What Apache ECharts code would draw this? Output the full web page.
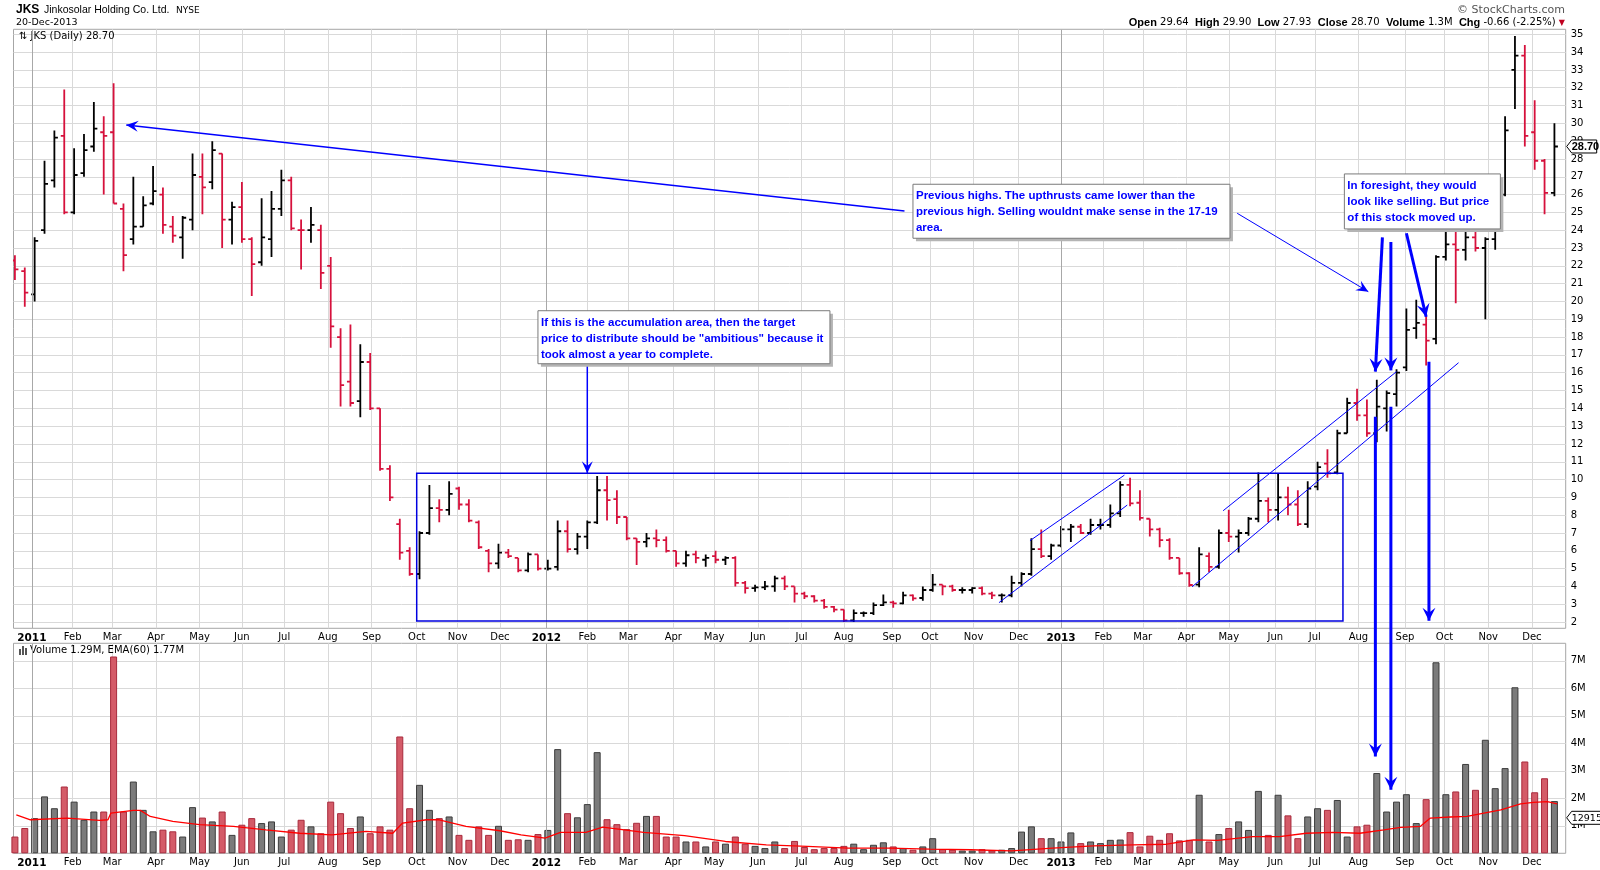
<!DOCTYPE html>
<html lang="en">
<head>
<meta charset="UTF-8">
<title>JKS Daily</title>
<script src="https://cdn.jsdelivr.net/npm/echarts@6/dist/echarts.min.js"></script>
<style>
  html, body { margin: 0; padding: 0; background: #fff; }
  #main { width: 1600px; height: 870px; }
</style>
</head>
<body>
<div id="main"></div>
<script>
// weekly bars, first week is the one of 22-Dec-2010
var firstWeek = [2010, 11, 22];

var openP = [
  22.3, 21.7,
  20.4, 24.0, 26.8, 29.3, 25.0, 27.2, 28.7, 29.5, 29.5, 25.2, 23.5, 24.2, 25.5, 26.0, 24.2, 23.6, 24.6, 27.0,
  26.7, 28.3, 24.6, 25.3, 23.5, 22.2, 23.5, 25.2, 26.8, 24.0, 24.0, 24.0, 22.0, 18.0, 15.5, 14.4, 16.6, 14.0,
  10.6, 7.5, 6.0, 4.7, 7.0, 8.4, 8.3, 9.5, 8.6, 7.6, 6.0, 5.3, 5.9, 5.6, 4.9, 5.8,
  5.0, 5.1, 7.1, 6.1, 6.8, 7.6, 9.4, 8.9, 7.9, 6.7, 6.5, 6.7, 6.6, 6.0, 5.3, 5.8, 5.5, 5.7, 5.5, 5.6,
  4.2, 3.9, 3.95, 4.0, 4.45, 4.0, 3.6, 3.45, 3.2, 2.85, 2.7, 2.1, 2.5, 2.5, 2.95, 3.1, 3.05, 3.5, 3.35, 3.8,
  4.1, 4.0, 3.8, 3.8, 3.9, 3.6, 3.5, 3.5, 4.2, 4.7, 6.1, 5.7,
  6.3, 7.2, 7.35, 7.0, 7.45, 7.45, 8.1, 9.7, 8.7, 7.8, 7.2, 6.6, 5.6, 4.74, 4.1, 5.7, 5.1, 7.0, 6.8, 7.0,
  7.8, 8.8, 8.3, 9.0, 8.6, 7.5, 9.6, 10.9, 10.4, 12.6, 14.3, 13.6, 12.6, 14.0, 14.8, 16.3, 18.5, 18.7, 17.9, 22.5,
  23.2, 22.9, 23.6, 23.0, 23.5, 26.0, 33.0, 33.8, 29.5, 27.9, 26.1
];
var highP = [
  22.6, 21.9,
  23.6, 27.9, 29.6, 31.9, 28.6, 29.4, 31.2, 30.4, 32.25, 25.5, 27.0, 25.9, 27.6, 26.4, 24.8, 24.8, 28.3, 28.3,
  29.0, 28.3, 25.6, 26.7, 23.6, 25.8, 26.2, 27.4, 27.0, 24.6, 25.3, 24.3, 22.5, 18.5, 18.7, 17.6, 17.1, 14.0,
  10.8, 7.8, 6.2, 7.1, 9.7, 8.9, 9.9, 9.6, 8.9, 7.7, 6.1, 6.4, 6.1, 5.6, 5.9, 5.8,
  5.5, 7.7, 7.7, 7.0, 7.7, 10.2, 10.2, 9.4, 7.9, 6.7, 7.0, 7.2, 6.8, 6.0, 6.0, 6.0, 5.8, 6.0, 5.7, 5.7,
  4.3, 4.1, 4.3, 4.6, 4.6, 4.0, 3.7, 3.5, 3.3, 2.9, 2.7, 2.7, 2.6, 3.1, 3.55, 3.2, 3.7, 3.55, 4.0, 4.7,
  4.1, 4.1, 3.95, 3.95, 4.0, 3.7, 3.6, 4.6, 4.8, 6.7, 7.2, 6.4,
  7.4, 7.5, 7.5, 7.8, 7.8, 8.6, 9.9, 10.1, 9.4, 7.8, 7.3, 6.7, 5.6, 4.8, 6.2, 5.9, 7.2, 8.3, 7.2, 7.9,
  10.4, 9.0, 10.35, 9.6, 9.4, 9.9, 11.0, 11.7, 12.8, 14.6, 15.1, 14.5, 15.6, 15.0, 16.2, 19.6, 20.1, 19.2, 22.6, 24.3,
  24.0, 24.0, 24.8, 23.6, 26.0, 30.4, 34.9, 34.4, 31.3, 28.0, 30.0
];
var lowP = [
  21.2, 19.7,
  20.0, 23.8, 26.4, 24.9, 24.9, 27.0, 28.4, 26.0, 25.5, 21.7, 23.2, 24.2, 25.4, 23.8, 23.3, 22.4, 24.0, 24.9,
  26.3, 23.0, 23.2, 23.3, 20.3, 22.0, 22.5, 24.8, 24.0, 21.8, 23.3, 20.7, 17.4, 14.1, 14.1, 13.5, 13.9, 10.5,
  8.8, 5.5, 4.6, 4.4, 6.9, 7.6, 8.0, 8.3, 7.6, 6.1, 4.8, 5.0, 5.6, 4.8, 4.8, 4.9,
  4.9, 4.9, 5.9, 5.8, 6.1, 7.5, 7.7, 7.5, 6.6, 5.2, 6.2, 6.2, 5.9, 5.1, 5.1, 5.3, 5.1, 5.3, 5.2, 4.0,
  3.6, 3.7, 3.8, 3.7, 3.8, 3.1, 3.3, 3.1, 2.75, 2.55, 2.0, 2.0, 2.3, 2.4, 2.9, 2.8, 3.0, 3.2, 3.2, 3.7,
  3.5, 3.7, 3.6, 3.6, 3.5, 3.3, 3.1, 3.4, 4.0, 4.6, 5.6, 5.5,
  6.2, 6.5, 6.95, 6.9, 7.2, 7.3, 7.9, 8.5, 7.7, 6.8, 6.2, 5.5, 4.65, 3.98, 3.95, 4.8, 5.0, 6.5, 5.9, 6.85,
  7.6, 7.6, 7.7, 8.0, 7.4, 7.3, 9.4, 10.1, 10.3, 12.6, 13.3, 12.4, 12.1, 12.7, 14.1, 16.1, 17.9, 16.4, 17.6, 22.3,
  19.9, 22.3, 22.8, 19.0, 22.9, 25.9, 30.8, 28.7, 27.4, 24.9, 25.9
];
var closeP = [
  21.8, 20.5,
  23.4, 26.6, 29.2, 25.0, 27.1, 28.5, 29.7, 29.3, 25.5, 22.6, 24.2, 25.4, 26.2, 24.3, 23.7, 24.7, 27.1, 26.4,
  28.5, 24.6, 25.3, 23.5, 22.1, 23.6, 25.2, 26.8, 24.1, 24.0, 24.3, 21.6, 18.6, 15.3, 14.3, 16.6, 14.0, 10.6,
  9.0, 5.9, 4.7, 7.0, 8.4, 8.3, 9.2, 8.6, 7.7, 6.2, 5.3, 5.9, 5.7, 4.9, 5.8, 5.0,
  5.0, 7.1, 6.1, 6.8, 7.6, 9.4, 8.85, 7.9, 6.7, 6.5, 6.7, 6.6, 6.0, 5.3, 5.75, 5.6, 5.6, 5.5, 5.6, 4.2,
  3.9, 3.95, 4.0, 4.45, 4.0, 3.6, 3.45, 3.2, 2.85, 2.7, 2.1, 2.5, 2.5, 2.95, 3.1, 3.05, 3.5, 3.33, 3.8, 4.1,
  4.0, 3.8, 3.8, 3.9, 3.6, 3.5, 3.5, 4.2, 4.7, 6.1, 5.7, 6.3,
  7.2, 7.35, 7.0, 7.45, 7.45, 8.1, 9.7, 8.66, 7.85, 7.2, 6.6, 5.6, 4.74, 4.08, 5.8, 5.1, 7.0, 6.8, 7.0, 7.8,
  8.8, 8.3, 9.0, 8.6, 7.5, 9.5, 10.7, 10.35, 12.6, 14.3, 13.6, 12.6, 14.1, 14.85, 16.0, 18.4, 18.8, 17.8, 22.5, 23.2,
  22.9, 23.6, 23.0, 23.5, 25.9, 29.6, 33.8, 29.3, 27.9, 26.1, 28.7
];
// peak daily volume of each week, millions
var volumeM = [
  0.61, 0.92,
  1.28, 2.07, 1.64, 2.43, 1.88, 1.22, 1.52, 1.52, 7.16, 1.52, 2.61, 1.58, 0.80, 0.86, 0.80, 0.61, 1.68, 1.30,
  1.16, 1.52, 0.67, 1.04, 1.28, 1.10, 1.16, 0.61, 0.86, 1.22, 0.98, 0.73, 1.88, 1.46, 0.92, 1.34, 0.73, 0.98,
  0.86, 4.25, 1.64, 2.49, 1.58, 1.28, 1.34, 0.67, 0.49, 0.98, 0.67, 1.00, 0.49, 0.51, 0.49, 0.70,
  0.85, 3.79, 1.46, 1.31, 1.79, 3.68, 1.24, 1.06, 0.88, 1.11, 1.36, 1.36, 0.61, 0.61, 0.43, 0.43, 0.25, 0.43, 0.35, 0.61,
  0.35, 0.27, 0.19, 0.43, 0.19, 0.45, 0.23, 0.15, 0.19, 0.19, 0.27, 0.35, 0.15, 0.31, 0.40, 0.25, 0.19, 0.13, 0.25, 0.55,
  0.15, 0.13, 0.10, 0.10, 0.15, 0.10, 0.13, 0.19, 0.79, 0.98, 0.55, 0.55,
  0.43, 0.76, 0.37, 0.43, 0.37, 0.49, 0.50, 0.77, 0.25, 0.64, 0.49, 0.73, 0.47, 0.49, 2.13, 0.43, 0.70, 0.92, 1.16, 0.85,
  2.27, 0.67, 2.13, 1.38, 0.55, 1.34, 1.64, 1.58, 1.94, 0.61, 0.98, 1.04, 2.92, 1.52, 1.88, 2.15, 1.10, 1.97, 6.95, 2.15,
  2.25, 3.25, 2.31, 4.13, 2.37, 3.10, 6.04, 3.34, 2.22, 2.73, 1.90
];
// EMA(60) of volume
var emaDates = [
  '2010-12-23', '2011-01-02', '2011-01-28', '2011-02-20', '2011-02-26', '2011-02-28', '2011-03-16', '2011-03-21',
  '2011-03-28', '2011-04-13', '2011-05-02', '2011-05-26', '2011-06-18', '2011-07-12', '2011-08-04', '2011-08-28',
  '2011-09-16', '2011-09-23', '2011-10-10', '2011-10-19', '2011-11-07', '2011-12-01', '2011-12-16', '2012-01-02',
  '2012-01-13', '2012-01-31', '2012-02-12', '2012-03-12', '2012-04-10', '2012-05-09', '2012-06-07', '2012-07-06',
  '2012-08-04', '2012-09-02', '2012-10-01', '2012-10-30', '2012-11-28', '2012-12-27', '2013-01-25', '2013-02-22',
  '2013-03-18', '2013-04-06', '2013-04-23', '2013-05-18', '2013-06-06', '2013-06-25', '2013-07-14', '2013-08-02',
  '2013-08-19', '2013-08-31', '2013-09-14', '2013-09-21', '2013-10-05', '2013-10-17', '2013-10-29', '2013-11-10',
  '2013-11-24', '2013-12-03', '2013-12-13', '2013-12-20'
];
var emaM = [
  1.40, 1.22, 1.28, 1.20, 1.22, 1.46, 1.56, 1.56,
  1.34, 1.16, 1.04, 0.98, 0.85, 0.73, 0.67, 0.80,
  0.73, 1.10, 1.22, 1.22, 0.98, 0.82, 0.67, 0.55,
  0.76, 0.76, 0.95, 0.76, 0.64, 0.43, 0.31, 0.25,
  0.19, 0.19, 0.15, 0.13, 0.09, 0.19, 0.27, 0.31,
  0.33, 0.49, 0.47, 0.61, 0.61, 0.73, 0.76, 0.73,
  0.85, 0.94, 0.98, 1.28, 1.32, 1.34, 1.46, 1.58,
  1.80, 1.85, 1.88, 1.80
];
var monthTicks = [
  '2011-01-03', '2011-02-01', '2011-03-01', '2011-04-01', '2011-05-02', '2011-06-01', '2011-07-01', '2011-08-01',
  '2011-09-01', '2011-10-03', '2011-11-01', '2011-12-01', '2012-01-03', '2012-02-01', '2012-03-01', '2012-04-02',
  '2012-05-01', '2012-06-01', '2012-07-02', '2012-08-01', '2012-09-04', '2012-10-01', '2012-11-01', '2012-12-03',
  '2013-01-02', '2013-02-01', '2013-03-01', '2013-04-01', '2013-05-01', '2013-06-03', '2013-07-01', '2013-08-01',
  '2013-09-03', '2013-10-01', '2013-11-01', '2013-12-02'
];
var yearTicks = ['2011-01-03', '2012-01-03', '2013-01-02'];
var monthNames = ['Jan', 'Feb', 'Mar', 'Apr', 'May', 'Jun', 'Jul', 'Aug', 'Sep', 'Oct', 'Nov', 'Dec'];
var priceTicks = [2, 3, 4, 5, 6, 7, 8, 9, 10, 11, 12, 13, 14, 15, 16, 17, 18, 19, 20, 21, 22, 23, 24, 25, 26, 27, 28,
  29, 30, 31, 32, 33, 34, 35];
var volTicks = [1e6, 2e6, 3e6, 4e6, 5e6, 6e6, 7e6];
var lastClose = 28.70;
var lastVolume = 1291590;

// annotations, in chart coordinates: [grid, date, value]
var noteLines = [
  { from: [0, '2012-09-13', 25.08], to: [0, '2011-03-11', 29.91], w: 1.5, head: true },
  { from: [0, '2012-02-01', 16.43], to: [0, '2012-02-01', 10.35], w: 1.5, head: true },
  { from: [0, '2013-05-07', 24.95], to: [0, '2013-08-08', 20.55], w: 1, head: true },
  { from: [0, '2012-11-19', 3.09], to: [0, '2013-02-18', 8.57], w: 1, head: false },
  { from: [0, '2012-12-11', 6.57], to: [0, '2013-02-16', 10.25], w: 1, head: false },
  { from: [0, '2013-04-05', 3.98], to: [0, '2013-10-11', 16.56], w: 1, head: false },
  { from: [0, '2013-04-27', 8.25], to: [0, '2013-08-28', 16.06], w: 1, head: false },
  { from: [0, '2013-08-18', 23.6], to: [0, '2013-08-13', 16.06], w: 3, head: true },
  { from: [0, '2013-08-13', 13.53], to: [1, '2013-08-13', 3.52e6], w: 3, head: true },
  { from: [0, '2013-08-24', 23.34], to: [0, '2013-08-24', 16.13], w: 3, head: true },
  { from: [0, '2013-08-24', 14.09], to: [1, '2013-08-24', 2.31e6], w: 3, head: true },
  { from: [0, '2013-09-04', 23.83], to: [0, '2013-09-18', 19.14], w: 3, head: true },
  { from: [0, '2013-09-20', 16.62], to: [0, '2013-09-20', 2.07], w: 3, head: true }
];
var noteRect = { from: ['2011-10-03', 10.35], to: ['2013-07-21', 2.06] };
var noteBoxes = [
  { at: ['2012-09-19', 26.58], w: 317, h: 54,
    text: 'Previous highs. The upthrusts came lower than the\nprevious high. Selling wouldnt make sense in the 17-19\narea.' },
  { at: ['2011-12-28', 19.48], w: 292, h: 53,
    text: 'If this is the accumulation area, then the target\nprice to distribute should be "ambitious" because it\ntook almost a year to complete.' },
  { at: ['2013-07-22', 27.16], w: 156, h: 55,
    text: 'In foresight, they would\nlook like selling. But price\nof this stock moved up.' }
];

function ts(s) {
  var p = s.split('-');
  return new Date(+p[0], +p[1] - 1, +p[2]).getTime();
}

var RED = '#d6113c';
var ohlc = [];
var upFlags = [];
var volData = [];
for (var i = 0; i < closeP.length; i++) {
  var t = new Date(firstWeek[0], firstWeek[1], firstWeek[2] + 7 * i).getTime();
  ohlc.push([t, openP[i], highP[i], lowP[i], closeP[i]]);
  var up = i === 0 ? closeP[i] >= openP[i] : closeP[i] >= closeP[i - 1];
  upFlags.push(up);
  volData.push({
    value: [t, volumeM[i] * 1e6],
    itemStyle: up ? { color: '#7b7b7b', borderColor: '#3c3c3c' } : { color: '#d45b68', borderColor: '#a82a3c' }
  });
}
var emaData = emaDates.map(function (d, k) { return [ts(d), emaM[k] * 1e6]; });

function renderBar(params, api) {
  var x = api.value(0);
  var o = api.coord([x, api.value(1)]);
  var h = api.coord([x, api.value(2)]);
  var l = api.coord([x, api.value(3)]);
  var c = api.coord([x, api.value(4)]);
  var col = upFlags[params.dataIndex] ? '#000' : RED;
  var st = { stroke: col, lineWidth: 1.8 };
  return {
    type: 'group',
    children: [
      { type: 'line', shape: { x1: h[0], y1: h[1], x2: l[0], y2: l[1] }, style: st },
      { type: 'line', shape: { x1: o[0] - 3.5, y1: o[1], x2: o[0], y2: o[1] }, style: st },
      { type: 'line', shape: { x1: c[0], y1: c[1], x2: c[0] + 3.5, y2: c[1] }, style: st }
    ]
  };
}

function monthLabel(v) {
  var d = new Date(v);
  return d.getMonth() === 0 ? '{yr|' + d.getFullYear() + '}' : monthNames[d.getMonth()];
}

// plain value axis holding timestamps, ticks at the first trading day of each month
function dateAxis(g) {
  return {
    type: 'value', gridIndex: g,
    min: ts('2010-12-21'), max: ts('2013-12-26'),
    axisLine: { show: false },
    axisTick: { show: false, customValues: monthTicks.map(ts) },
    axisLabel: {
      customValues: monthTicks.map(ts), formatter: monthLabel, margin: 4,
      fontFamily: 'DejaVu Sans', fontSize: 10, color: '#000',
      rich: { yr: { fontWeight: 'bold', fontFamily: 'DejaVu Sans', fontSize: 10.5, color: '#000' } }
    },
    splitLine: { show: true, lineStyle: { color: '#d9d9d9', width: 1 } }
  };
}

var yearLines = yearTicks.map(function (d) { return { xAxis: ts(d) }; });
var yearMark = {
  silent: true, symbol: 'none', animation: false,
  lineStyle: { color: '#a8a8a8', width: 1, type: 'solid' },
  label: { show: false },
  data: yearLines
};

var chart = echarts.init(document.getElementById('main'));
var option = {
  animation: false,
  backgroundColor: '#fff',
  grid: [
    { left: 13.5, right: 34.3, top: 29.3, height: 599, show: true, borderColor: '#a6a6a6', borderWidth: 1 },
    { left: 13.5, right: 34.3, top: 643.3, height: 210, show: true, borderColor: '#a6a6a6', borderWidth: 1 }
  ],
  xAxis: [dateAxis(0), dateAxis(1)],
  yAxis: [
    {
      type: 'value', gridIndex: 0, position: 'right', min: 1.65, max: 35.28,
      axisLine: { show: false },
      axisTick: { show: false, customValues: priceTicks },
      axisLabel: { customValues: priceTicks, margin: 5, fontFamily: 'DejaVu Sans', fontSize: 10, color: '#000' },
      splitLine: { lineStyle: { color: '#d9d9d9' } }
    },
    {
      type: 'value', gridIndex: 1, position: 'right', min: 0, max: 7.64e6,
      axisLine: { show: false },
      axisTick: { show: false, customValues: volTicks },
      axisLabel: {
        customValues: volTicks, margin: 5, fontFamily: 'DejaVu Sans', fontSize: 10, color: '#000',
        formatter: function (v) { return (v / 1e6) + 'M'; }
      },
      splitLine: { lineStyle: { color: '#d9d9d9' } }
    }
  ],
  series: [
    {
      type: 'custom', name: 'JKS', xAxisIndex: 0, yAxisIndex: 0,
      renderItem: renderBar, data: ohlc, clip: true,
      encode: { x: 0, y: [1, 2, 3, 4] },
      markLine: yearMark
    },
    {
      type: 'bar', name: 'Volume', xAxisIndex: 1, yAxisIndex: 1,
      barWidth: 7, data: volData,
      itemStyle: { borderWidth: 1 },
      markLine: yearMark
    },
    {
      type: 'line', name: 'EMA(60)', xAxisIndex: 1, yAxisIndex: 1,
      data: emaData, symbol: 'none', z: 5,
      lineStyle: { color: '#ff0000', width: 1.3 }
    }
  ]
};
chart.setOption(option);

// ---- header texts and annotations ----
function pix(g, d, v) {
  return chart.convertToPixel({ gridIndex: g }, [ts(d), v]);
}

function arrowHead(x1, y1, x2, y2, len, wid) {
  var a = Math.atan2(y2 - y1, x2 - x1), c = Math.cos(a), s = Math.sin(a);
  var bx = x2 - c * len, by = y2 - s * len;
  var nx = x2 - c * len * 0.62, ny = y2 - s * len * 0.62;
  return [[x2, y2], [bx - s * wid / 2, by + c * wid / 2], [nx, ny], [bx + s * wid / 2, by - c * wid / 2]];
}

// value tag at the right edge of a panel
function valueTag(g, val, text, font, w) {
  var p = pix(g, '2013-12-26', val);
  var x = p[0] + 1, y = p[1];
  return [
    {
      type: 'polygon', z: 70,
      shape: { points: [[x, y], [x + 5, y - 6.5], [x + w, y - 6.5], [x + w, y + 6.5], [x + 5, y + 6.5]] },
      style: { fill: '#fff', stroke: '#000', lineWidth: 1 }
    },
    { type: 'text', z: 71, x: x + 5, y: y + 0.5, style: { text: text, font: font, fill: '#000', verticalAlign: 'middle' } }
  ];
}

var gfx = [];
var BLUE = '#0000ff';

// header
gfx.push({ type: 'text', x: 16, y: 4, style: { text: 'JKS', font: 'bold 12px "Liberation Sans", Arial', fill: '#000' } });
gfx.push({ type: 'text', x: 44, y: 4.5, style: { text: 'Jinkosolar Holding Co. Ltd.', font: '10.5px "Liberation Sans", Arial', fill: '#000' } });
gfx.push({ type: 'text', x: 176, y: 6, style: { text: 'NYSE', font: '9px "DejaVu Sans"', fill: '#000' } });
gfx.push({ type: 'text', x: 16, y: 18, style: { text: '20-Dec-2013', font: '9.5px "DejaVu Sans"', fill: '#000' } });
gfx.push({
  type: 'text', x: 1565, y: 5,
  style: { text: '\u00a9 StockCharts.com', font: '11px "DejaVu Sans"', fill: '#555', align: 'right' }
});
gfx.push({
  type: 'text', x: 1565, y: 17,
  style: {
    text: '{b|Open} 29.64  {b|High} 29.90  {b|Low} 27.93  {b|Close} 28.70  {b|Volume} 1.3M  {b|Chg} -0.66 (-2.25%) {r|\u25bc}',
    align: 'right', font: '10px "DejaVu Sans"', fill: '#000',
    rich: {
      b: { font: 'bold 11px "Liberation Sans", Arial', fill: '#000' },
      r: { font: '8px "DejaVu Sans"', fill: '#c00020' }
    }
  }
});
gfx.push({ type: 'text', x: 19, y: 31, style: { text: '\u21c5 JKS (Daily) 28.70', font: '10px "DejaVu Sans"', fill: '#000' } });
// volume legend with small bar icon
gfx.push({ type: 'rect', shape: { x: 19, y: 649, width: 2, height: 6 }, style: { fill: '#555' } });
gfx.push({ type: 'rect', shape: { x: 22, y: 646, width: 2, height: 9 }, style: { fill: '#555' } });
gfx.push({ type: 'rect', shape: { x: 25, y: 648, width: 2, height: 7 }, style: { fill: '#555' } });
gfx.push({ type: 'text', x: 30, y: 645.5, style: { text: 'Volume 1.29M, EMA(60) 1.77M', font: '10px "DejaVu Sans"', fill: '#000' } });

// last value tags
gfx = gfx.concat(valueTag(0, lastClose, lastClose.toFixed(2), 'bold 11px "Liberation Sans", Arial', 30));
gfx = gfx.concat(valueTag(1, lastVolume, String(lastVolume).slice(0, 6), '9.5px "DejaVu Sans"', 40));

// accumulation rectangle
var r0 = pix(0, noteRect.from[0], noteRect.from[1]);
var r1 = pix(0, noteRect.to[0], noteRect.to[1]);
gfx.push({
  type: 'rect', z: 50,
  shape: { x: r0[0], y: r0[1], width: r1[0] - r0[0], height: r1[1] - r0[1] },
  style: { fill: 'none', stroke: '#0000e0', lineWidth: 1.5 }
});

// lines and arrows
noteLines.forEach(function (n) {
  var p0 = pix(n.from[0], n.from[1], n.from[2]);
  var p1 = pix(n.to[0], n.to[1], n.to[2]);
  gfx.push({
    type: 'line', z: 51,
    shape: { x1: p0[0], y1: p0[1], x2: p1[0], y2: p1[1] },
    style: { stroke: BLUE, lineWidth: n.w }
  });
  if (n.head) {
    var big = n.w >= 2;
    gfx.push({
      type: 'polygon', z: 52,
      shape: { points: arrowHead(p0[0], p0[1], p1[0], p1[1], big ? 13 : 12, big ? 13 : 11) },
      style: { fill: BLUE }
    });
  }
});

// text boxes
noteBoxes.forEach(function (b) {
  var p = pix(0, b.at[0], b.at[1]);
  gfx.push({
    type: 'rect', z: 60,
    shape: { x: p[0] + 3, y: p[1] + 3, width: b.w, height: b.h },
    style: { fill: '#b4b4b4' }
  });
  gfx.push({
    type: 'rect', z: 61,
    shape: { x: p[0], y: p[1], width: b.w, height: b.h },
    style: { fill: '#fff', stroke: '#7a7a7a', lineWidth: 1 }
  });
  gfx.push({
    type: 'text', z: 62, x: p[0] + 3, y: p[1] + 4,
    style: { text: b.text, fill: BLUE, lineHeight: 16, font: 'bold 11.5px "Liberation Sans", Arial' }
  });
});

chart.setOption({ graphic: gfx });
</script>
</body>
</html>
